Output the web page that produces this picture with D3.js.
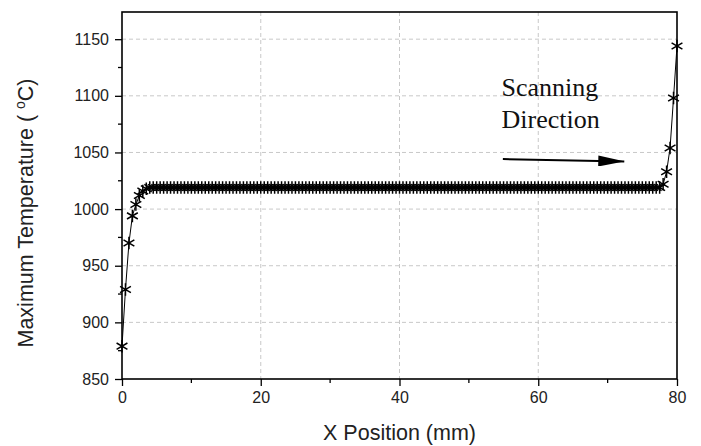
<!DOCTYPE html>
<html>
<head>
<meta charset="utf-8">
<script src="https://cdn.jsdelivr.net/npm/d3@7"></script>
<style>
  body { margin: 0; background: #fff; }
  svg { display: block; }
</style>
</head>
<body>
<figure id="chart" style="margin:0;width:701px;height:446px"></figure>
<script>
// maximum temperature sampled every 0.5 mm along the scan track
const xStep = 0.5
const temps = [
  879, 929, 970, 994, 1004, 1012, 1016, 1018, 1019,
  1019, 1019, 1019, 1019, 1019, 1019, 1019, 1019, 1019, 1019, 1019, 1019, 1019, 1019, 1019, 1019, 1019, 1019, 1019, 1019, 1019,
  1019, 1019, 1019, 1019, 1019, 1019, 1019, 1019, 1019, 1019, 1019, 1019, 1019, 1019, 1019, 1019, 1019, 1019, 1019, 1019, 1019,
  1019, 1019, 1019, 1019, 1019, 1019, 1019, 1019, 1019, 1019, 1019, 1019, 1019, 1019, 1019, 1019, 1019, 1019, 1019, 1019, 1019,
  1019, 1019, 1019, 1019, 1019, 1019, 1019, 1019, 1019, 1019, 1019, 1019, 1019, 1019, 1019, 1019, 1019, 1019, 1019, 1019, 1019,
  1019, 1019, 1019, 1019, 1019, 1019, 1019, 1019, 1019, 1019, 1019, 1019, 1019, 1019, 1019, 1019, 1019, 1019, 1019, 1019, 1019,
  1019, 1019, 1019, 1019, 1019, 1019, 1019, 1019, 1019, 1019, 1019, 1019, 1019, 1019, 1019, 1019, 1019, 1019, 1019, 1019, 1019,
  1019, 1019, 1019, 1019, 1019, 1019, 1019, 1019, 1019, 1019, 1019, 1019, 1019, 1019, 1019, 1019, 1019, 1019, 1019, 1019, 1019,
  1022, 1033, 1054, 1098, 1144
]

const xTicks = [0, 20, 40, 60, 80]
const xMinorTicks = [10, 30, 50, 70]
const yTicks = [850, 900, 950, 1000, 1050, 1100, 1150]
const yMinorTicks = [875, 925, 975, 1025, 1075, 1125]

// annotation, in data units
const arrowFrom = [54.9, 1044.2]
const arrowTo = [72.4, 1042.1]
const noteLines = ["Scanning", "Direction"]
const noteX = 54.7
const noteY = [1099.5, 1071.6]

const data = temps.map((t, i) => ({ x: i * xStep, t }))

const width = 701
const height = 446
const margin = { top: 12, right: 24, bottom: 67, left: 122 }
const innerWidth = width - margin.left - margin.right
const innerHeight = height - margin.top - margin.bottom

const xScale = d3.scaleLinear().domain([0, 80]).range([0, innerWidth])
const yScale = d3.scaleLinear().domain([850, 1174]).range([innerHeight, 0])

const svg = d3.select("#chart").append("svg")
  .attr("width", width)
  .attr("height", height)

const g = svg.append("g")
  .attr("transform", `translate(${margin.left}, ${margin.top})`)

// grid
g.append("g").selectAll("line")
  .data(yTicks.filter(d => d > 850))
  .join("line")
  .attr("x1", 0).attr("x2", innerWidth)
  .attr("y1", d => yScale(d)).attr("y2", d => yScale(d))
  .attr("stroke", "#c8c8c8").attr("stroke-dasharray", "4,3")

g.append("g").selectAll("line")
  .data(xTicks.filter(d => d > 0 && d < 80))
  .join("line")
  .attr("y1", 0).attr("y2", innerHeight)
  .attr("x1", d => xScale(d)).attr("x2", d => xScale(d))
  .attr("stroke", "#c8c8c8").attr("stroke-dasharray", "4,3")

// axes
const xAxis = d3.axisBottom(xScale).tickValues(xTicks).tickFormat(d3.format("d")).tickSize(7).tickPadding(6)
const yAxis = d3.axisLeft(yScale).tickValues(yTicks).tickFormat(d3.format("d")).tickSize(7).tickPadding(6)

const xg = g.append("g")
  .attr("transform", `translate(0, ${innerHeight})`)
  .call(xAxis)
const yg = g.append("g").call(yAxis)

for (const ax of [xg, yg]) {
  ax.select(".domain").remove()
  ax.selectAll("line").attr("stroke-width", 1.3)
  ax.selectAll("text")
    .attr("font-family", "Liberation Sans, Arial, sans-serif")
    .attr("font-size", 16)
    .attr("fill", "#222")
}

xg.selectAll("line.minor").data(xMinorTicks).join("line")
  .attr("class", "minor")
  .attr("x1", d => xScale(d)).attr("x2", d => xScale(d))
  .attr("y1", 0).attr("y2", 4)
  .attr("stroke", "#000").attr("stroke-width", 1.3)

yg.selectAll("line.minor").data(yMinorTicks).join("line")
  .attr("class", "minor")
  .attr("y1", d => yScale(d)).attr("y2", d => yScale(d))
  .attr("x1", 0).attr("x2", -4)
  .attr("stroke", "#000").attr("stroke-width", 1.3)

// frame
g.append("rect")
  .attr("width", innerWidth).attr("height", innerHeight)
  .attr("fill", "none").attr("stroke", "#000").attr("stroke-width", 1.6)

// series
const line = d3.line()
  .x(d => xScale(d.x))
  .y(d => yScale(d.t))

g.append("path")
  .datum(data)
  .attr("d", line)
  .attr("fill", "none")
  .attr("stroke", "#000")
  .attr("stroke-width", 1)

const star = d3.symbol().type(d3.symbolAsterisk).size(110)
g.append("g").selectAll("path")
  .data(data)
  .join("path")
  .attr("d", star)
  .attr("transform", d => `translate(${xScale(d.x)}, ${yScale(d.t)})`)
  .attr("fill", "none")
  .attr("stroke", "#000")
  .attr("stroke-width", 1.5)

// annotation
svg.append("defs").append("marker")
  .attr("id", "head")
  .attr("viewBox", "0 0 26 11")
  .attr("refX", 26).attr("refY", 5.5)
  .attr("markerWidth", 26).attr("markerHeight", 11)
  .attr("markerUnits", "userSpaceOnUse")
  .attr("orient", "auto")
  .append("path")
  .attr("d", "M0,0L26,5.5L0,11Z")
  .attr("fill", "#000")

g.append("line")
  .attr("x1", xScale(arrowFrom[0])).attr("y1", yScale(arrowFrom[1]))
  .attr("x2", xScale(arrowTo[0])).attr("y2", yScale(arrowTo[1]))
  .attr("stroke", "#000").attr("stroke-width", 2)
  .attr("marker-end", "url(#head)")

g.append("text")
  .attr("font-family", "Liberation Serif, Times New Roman, serif")
  .attr("font-size", 26)
  .attr("fill", "#111")
  .selectAll("tspan")
  .data(noteLines)
  .join("tspan")
  .attr("x", xScale(noteX))
  .attr("y", (d, i) => yScale(noteY[i]))
  .text(d => d)

// axis titles
svg.append("text")
  .attr("x", margin.left + innerWidth / 2)
  .attr("y", 440)
  .attr("text-anchor", "middle")
  .attr("font-family", "Liberation Sans, Arial, sans-serif")
  .attr("font-size", 21.5)
  .attr("fill", "#222")
  .text("X Position (mm)")

const yTitle = svg.append("text")
  .attr("transform", "translate(33, 213) rotate(-90)")
  .attr("text-anchor", "middle")
  .attr("font-family", "Liberation Sans, Arial, sans-serif")
  .attr("font-size", 21.5)
  .attr("fill", "#222")
yTitle.append("tspan").text("Maximum Temperature ( ")
yTitle.append("tspan").attr("font-size", 14).attr("dy", -8).text("o")
yTitle.append("tspan").attr("dy", 8).text("C)")
</script>
</body>
</html>
